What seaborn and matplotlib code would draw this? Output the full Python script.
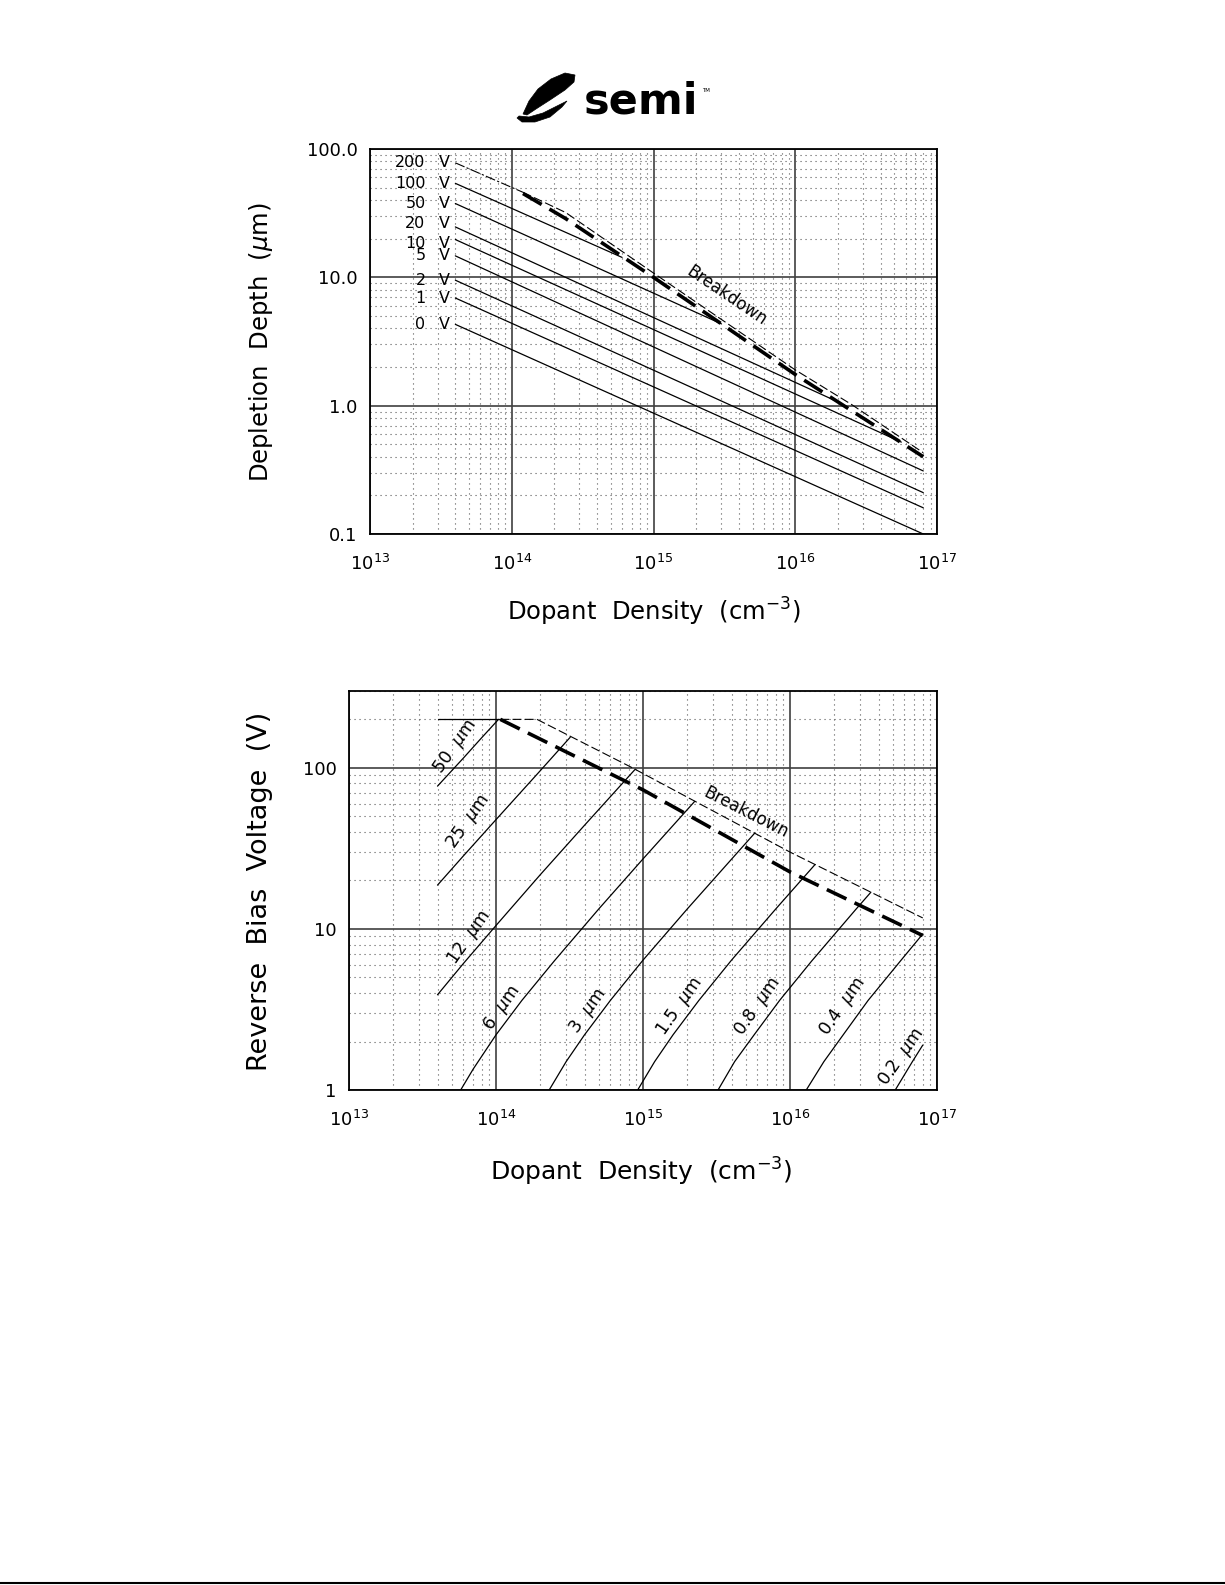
import numpy as np
import pandas as pd
import matplotlib
matplotlib.use("Agg")
import matplotlib.pyplot as plt
import seaborn as sns
from matplotlib.ticker import LogLocator, NullFormatter
from matplotlib.transforms import blended_transform_factory, offset_copy
from matplotlib.patches import Polygon
from matplotlib.lines import Line2D

# ---------------- data: top chart (depletion depth vs dopant density) ----------
volt_labels = ["200", "100", "50", "20", "10", "5", "2", "1", "0"]
line_start_n = [4e13, 4e13, 4e13, 4e13, 4e13, 4e13, 4e13, 4e13, 4e13]
depth_start = [78, 54, 37.6, 24.7, 19.7, 14.7, 9.5, 6.9, 4.3]
line_end_n = [1.2e14, 6e14, 3e15, 2e16, 5.6e16, 8e16, 8e16, 8e16, 8e16]
depth_end = [46, 14.3, 4.35, 1.07, 0.52, 0.31, 0.21, 0.16, 0.10]

top_bd_thin_n = [1.2e14, 2.4e14, 1e15, 1e16, 2.5e16, 8e16]
top_bd_thin_w = [46, 32, 10.8, 1.9, 1.02, 0.43]
top_bd_thick_n = [1.2e14, 2.4e14, 1e15, 1e16, 8e16]
top_bd_thick_w = [45, 28.7, 10, 1.75, 0.40]

# ---------------- data: bottom chart (reverse bias vs dopant density) ----------
depth_labels = ["50", "25", "12", "6", "3", "1.5", "0.8", "0.4", "0.2"]
curve_n = [
    [4e13, 6e13, 8e13, 1.04e14],
    [4e13, 6e13, 1e14, 2e14, 3.2e14],
    [4e13, 6e13, 1e14, 2e14, 4e14, 8.85e14],
    [5.75e13, 7e13, 1e14, 1.5e14, 2.5e14, 5e14, 1e15, 2.25e15],
    [2.3e14, 3e14, 4e14, 6e14, 1e15, 2e15, 5.75e15],
    [9.2e14, 1.2e15, 1.6e15, 2.4e15, 4e15, 8e15, 1.48e16],
    [3.24e15, 4.2e15, 5.7e15, 8.5e15, 1.4e16, 2.8e16, 3.55e16],
    [1.29e16, 1.7e16, 2.3e16, 3.4e16, 5.7e16, 8e16],
    [5.2e16, 6.8e16, 8e16],
]
curve_v = [
    [77, 115, 154, 200],
    [18.7, 28.4, 47.7, 96, 155],
    [3.9, 6.1, 10.5, 21.7, 44, 98],
    [1.0, 1.35, 2.2, 3.6, 6.35, 13.3, 27.2, 62],
    [1.0, 1.5, 2.2, 3.6, 6.4, 13.3, 39.3],
    [1.0, 1.5, 2.2, 3.6, 6.4, 13.3, 25.1],
    [1.0, 1.5, 2.2, 3.6, 6.3, 13.2, 16.9],
    [1.0, 1.5, 2.2, 3.6, 6.4, 9.3],
    [1.0, 1.5, 1.9],
]
label_n = [5.3e13, 6.5e13, 6.6e13, 1.1e14, 4.2e14, 1.77e15, 6.0e15, 2.27e16, 5.75e16]
label_v = [135, 46, 8.8, 3.2, 3.1, 3.3, 3.3, 3.3, 1.6]

bot_flat_n = [4e13, 1.07e14]
bot_flat_v = [200, 200]
bot_bd_thin_n = [1.07e14, 1.9e14, 8.3e14, 1e16, 8e16]
bot_bd_thin_v = [200, 200, 101, 30, 11.7]
bot_bd_thick_n = [1.07e14, 1e15, 1e16, 8e16]
bot_bd_thick_v = [200, 73, 22.6, 9.1]

x_ticks = [1e13, 1e14, 1e15, 1e16, 1e17]
x_ticklabels = [r"$10^{13}$", r"$10^{14}$", r"$10^{15}$", r"$10^{16}$", r"$10^{17}$"]
top_yticks = [0.1, 1, 10, 100]
top_yticklabels = ["0.1", "1.0", "10.0", "100.0"]
bot_yticks = [1, 10, 100]
bot_yticklabels = ["1", "10", "100"]

# ---------------- style ----------------
sns.set_style("white")
plt.rcParams["font.family"] = ["DejaVu Sans"]
plt.rcParams["mathtext.fontset"] = "dejavusans"
plt.rcParams["text.color"] = "black"
plt.rcParams["xtick.color"] = "black"
plt.rcParams["ytick.color"] = "black"

W, H = 1225, 1585
fig = plt.figure(figsize=(W / 100, H / 100), dpi=100)


def fx(px):
    return px / W


def fy(py):
    return 1 - py / H


ax1 = fig.add_axes([fx(370), fy(534), fx(937) - fx(370), fy(149) - fy(534)])
ax2 = fig.add_axes([fx(349), fy(1090), fx(937) - fx(349), fy(691) - fy(1090)])


def draw(ax, n, v, lw=0.9, ls="-", color="black"):
    df = pd.DataFrame({"n": n, "v": v})
    sns.lineplot(data=df, x="n", y="v", ax=ax, sort=False, estimator=None,
                 color=color, linewidth=lw, linestyle=ls)


def style_axes(ax, xlim, ylim, yticks, yticklabels):
    ax.set_xscale("log")
    ax.set_yscale("log")
    ax.set_xlim(*xlim)
    ax.set_ylim(*ylim)
    ax.set_xticks(x_ticks, labels=x_ticklabels)
    ax.set_yticks(yticks, labels=yticklabels)
    ax.xaxis.set_minor_locator(LogLocator(base=10, subs=np.arange(2, 10), numticks=30))
    ax.yaxis.set_minor_locator(LogLocator(base=10, subs=np.arange(2, 10), numticks=30))
    ax.xaxis.set_minor_formatter(NullFormatter())
    ax.yaxis.set_minor_formatter(NullFormatter())
    ax.grid(True, which="major", color="0.25", lw=1.2, ls="-")
    ax.grid(True, which="minor", color="0.35", lw=0.8, ls=(0, (1, 3.5)))
    ax.set_axisbelow(True)
    ax.tick_params(which="both", length=0)
    ax.tick_params(axis="x", labelsize=13, pad=14)
    ax.tick_params(axis="y", labelsize=13, pad=9)
    for s in ax.spines.values():
        s.set_visible(True)
        s.set_color("black")
        s.set_linewidth(1.3)
    ax.set_xlabel("")
    ax.set_ylabel("")


# ---------------- top chart ----------------
for i, lab in enumerate(volt_labels):
    if lab == "200":
        draw(ax1, [line_start_n[i], line_end_n[i]], [depth_start[i], depth_end[i]],
             lw=0.8, ls=(0, (9, 2, 2, 2)))
    else:
        draw(ax1, [line_start_n[i], line_end_n[i]], [depth_start[i], depth_end[i]])
draw(ax1, top_bd_thin_n, top_bd_thin_w, lw=0.8, ls=(0, (8, 3)))
draw(ax1, top_bd_thick_n, top_bd_thick_w, lw=2.6, ls=(0, (6, 2.5)))
style_axes(ax1, (1e13, 1e17), (0.1, 100), top_yticks, top_yticklabels)

tr = blended_transform_factory(ax1.transAxes, ax1.transData)
nudge = {"20": 2.5, "10": -2.5}
for i, lab in enumerate(volt_labels):
    t = offset_copy(tr, fig=fig, x=0, y=nudge.get(lab, 0), units="points")
    ax1.text(0.098, depth_start[i], lab, transform=t, ha="right", va="center",
             fontsize=11.5, color="black")
    ax1.text(0.132, depth_start[i], "V", transform=t, ha="center", va="center",
             fontsize=11.5, color="black")
ax1.text(3.27e15, 7.2, "Breakdown", rotation=-34, ha="center", va="center",
         fontsize=12, rotation_mode="anchor")

# ---------------- bottom chart ----------------
draw(ax2, bot_flat_n, bot_flat_v)
for n, v in zip(curve_n, curve_v):
    draw(ax2, n, v)
draw(ax2, bot_bd_thin_n, bot_bd_thin_v, lw=0.8, ls=(0, (8, 3)))
draw(ax2, bot_bd_thick_n, bot_bd_thick_v, lw=2.6, ls=(0, (6, 2.5)))
style_axes(ax2, (1e13, 1e17), (1, 300), bot_yticks, bot_yticklabels)

for lab, n, v in zip(depth_labels, label_n, label_v):
    ax2.text(n, v, lab + r"  $\mu$m", rotation=55, ha="center", va="center",
             fontsize=12.5, rotation_mode="anchor")
ax2.text(5e15, 53, "Breakdown", rotation=-27, ha="center", va="center",
         fontsize=12, rotation_mode="anchor")

# ---------------- axis titles ----------------
fig.text(fx(261), fy(342), r"Depletion  Depth  ($\mu$m)", rotation=90,
         ha="center", va="center", fontsize=17.5)
fig.text(fx(654), fy(612), r"Dopant  Density  (cm$^{-3}$)",
         ha="center", va="center", fontsize=17.5)
fig.text(fx(260), fy(891), r"Reverse  Bias  Voltage  (V)", rotation=90,
         ha="center", va="center", fontsize=19.5)
fig.text(fx(641), fy(1172), r"Dopant  Density  (cm$^{-3}$)",
         ha="center", va="center", fontsize=18)

# ---------------- logo ----------------
wedge = [(523, 114), (529, 101), (538, 89), (551, 79), (565, 73), (575, 75),
         (574, 82), (565, 90), (550, 100), (536, 109), (527, 115)]
crescent = [(517, 118), (522, 122), (535, 122), (550, 117), (562, 107),
            (567, 101), (557, 106), (543, 113), (529, 117), (519, 116)]
for pts in (wedge, crescent):
    fig.add_artist(Polygon([(fx(a), fy(b)) for a, b in pts], closed=True,
                           transform=fig.transFigure, facecolor="black",
                           edgecolor="black", lw=0.5))
fig.text(fx(584), fy(113), "semi", ha="left", va="baseline", fontsize=31,
         fontweight="bold", color="black")
fig.text(fx(702), fy(90), "TM", ha="left", va="center", fontsize=4, color="black")

# bottom page edge line
fig.add_artist(Line2D([0, 1], [fy(1583), fy(1583)], transform=fig.transFigure,
                      color="black", lw=1.5))

fig.savefig("out.png", dpi=100, facecolor="white")
